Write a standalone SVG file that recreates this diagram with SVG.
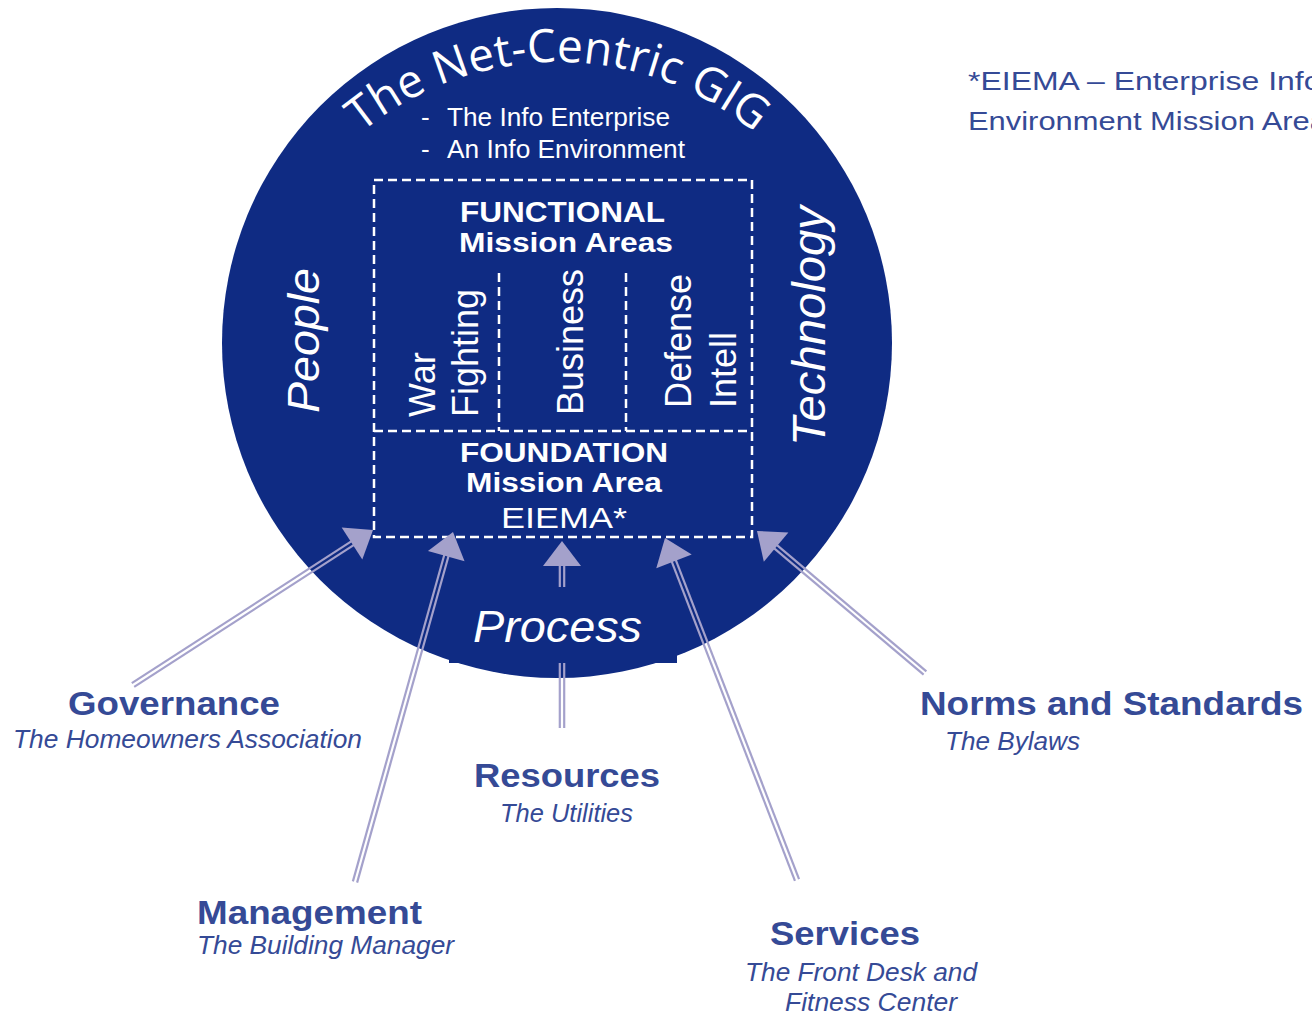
<svg xmlns="http://www.w3.org/2000/svg" xmlns:xlink="http://www.w3.org/1999/xlink" width="1312" height="1018" viewBox="0 0 1312 1018">
<style>
.disc{fill:#0F2B83}
.dash{fill:none;stroke:#ffffff;stroke-width:2.5;stroke-dasharray:9 5}
.w{fill:#ffffff;font-family:"Liberation Sans",Arial,sans-serif}
.wb{fill:#ffffff;font-family:"Liberation Sans",Arial,sans-serif;font-weight:bold}
.wi{fill:#ffffff;font-family:"Liberation Sans",Arial,sans-serif;font-style:italic}
.title{fill:#ffffff;font-family:"Open Sans","DejaVu Sans",sans-serif;font-size:46px}
.sh{stroke:#A4A1CB;stroke-width:2.2;fill:none}
.ah{fill:#A4A1CB}
.lb{fill:#354A96;font-family:"Liberation Sans",Arial,sans-serif;font-weight:bold;font-size:33px}
.ls{fill:#354A96;font-family:"Liberation Sans",Arial,sans-serif;font-style:italic;font-size:25px}
.note{fill:#354A96;font-family:"Liberation Sans",Arial,sans-serif;font-size:26px}
</style>
<defs>
<path id="arc" d="M 248,372 A 310 310 0 0 1 868,372"/>
<path id="head" d="M0,0 L-25,-19 L-25,19 Z"/>
</defs>

<g id="gig">
<circle class="disc" cx="557" cy="343" r="335"/>
<rect class="disc" x="449" y="590" width="228" height="73"/>
<text class="title"><textPath xlink:href="#arc" href="#arc" startOffset="50%" text-anchor="middle">The Net-Centric GIG</textPath></text>
<text class="w" font-size="26" x="421" y="126">-</text>
<text class="w" font-size="26" x="447" y="126" textLength="223" lengthAdjust="spacingAndGlyphs">The Info Enterprise</text>
<text class="w" font-size="26" x="421" y="158">-</text>
<text class="w" font-size="26" x="447" y="158" textLength="238" lengthAdjust="spacingAndGlyphs">An Info Environment</text>
<text class="wi" font-size="45" transform="translate(319,413) rotate(-90)" textLength="145" lengthAdjust="spacingAndGlyphs">People</text>
<text class="wi" font-size="46" transform="translate(825,446) rotate(-90)" textLength="240" lengthAdjust="spacingAndGlyphs">Technology</text>
<text class="wi" font-size="45" x="473" y="642" textLength="169" lengthAdjust="spacingAndGlyphs">Process</text>
</g>

<g id="mission-areas">
<rect class="dash" x="374" y="180" width="378" height="357"/>
<line class="dash" x1="374" y1="431" x2="752" y2="431"/>
<line class="dash" x1="499" y1="273" x2="499" y2="431"/>
<line class="dash" x1="626" y1="273" x2="626" y2="431"/>
<text class="wb" font-size="29" x="460" y="222" textLength="205" lengthAdjust="spacingAndGlyphs">FUNCTIONAL</text>
<text class="wb" font-size="27" x="459" y="252" textLength="214" lengthAdjust="spacingAndGlyphs">Mission Areas</text>
<text class="w" font-size="36" transform="translate(435,417) rotate(-90)">War</text>
<text class="w" font-size="36" transform="translate(478,417) rotate(-90)">Fighting</text>
<text class="w" font-size="36" transform="translate(583,415) rotate(-90)">Business</text>
<text class="w" font-size="36" transform="translate(691,408) rotate(-90)">Defense</text>
<text class="w" font-size="36" transform="translate(736,408) rotate(-90)">Intell</text>
<text class="wb" font-size="28" x="460" y="462" textLength="208" lengthAdjust="spacingAndGlyphs">FOUNDATION</text>
<text class="wb" font-size="28" x="466" y="492" textLength="196" lengthAdjust="spacingAndGlyphs">Mission Area</text>
<text class="w" font-size="30" x="501" y="528" textLength="126" lengthAdjust="spacingAndGlyphs">EIEMA*</text>
</g>

<g id="connectors">
<line class="sh" x1="134.2" y1="686.9" x2="354" y2="544.9"/>
<line class="sh" x1="131.8" y1="683.2" x2="351.6" y2="541.2"/>
<use href="#head" xlink:href="#head" class="ah" transform="translate(373,530) rotate(-32.86)"/>

<line class="sh" x1="357.1" y1="882.6" x2="448.6" y2="555.7"/>
<line class="sh" x1="352.9" y1="881.4" x2="444.4" y2="554.5"/>
<use href="#head" xlink:href="#head" class="ah" transform="translate(453,532) rotate(-74.36)"/>

<line class="sh" x1="559.8" y1="728" x2="559.8" y2="663"/>
<line class="sh" x1="564.2" y1="728" x2="564.2" y2="663"/>
<line class="sh" x1="559.8" y1="587" x2="559.8" y2="560"/>
<line class="sh" x1="564.2" y1="587" x2="564.2" y2="560"/>
<use href="#head" xlink:href="#head" class="ah" transform="translate(562,541) rotate(-90)"/>

<line class="sh" x1="799.05" y1="879.2" x2="675.65" y2="559.6"/>
<line class="sh" x1="794.95" y1="880.8" x2="671.55" y2="561.2"/>
<use href="#head" xlink:href="#head" class="ah" transform="translate(665,538) rotate(-111.1)"/>

<line class="sh" x1="926.4" y1="671.3" x2="776.7" y2="544.8"/>
<line class="sh" x1="923.6" y1="674.7" x2="773.9" y2="548.2"/>
<use href="#head" xlink:href="#head" class="ah" transform="translate(757,531) rotate(-139.8)"/>
</g>

<g id="governance">
<text class="lb" x="68" y="715" textLength="212" lengthAdjust="spacingAndGlyphs">Governance</text>
<text class="ls" x="13" y="748" textLength="349" lengthAdjust="spacingAndGlyphs">The Homeowners Association</text>
</g>
<g id="management">
<text class="lb" x="197" y="924" textLength="225" lengthAdjust="spacingAndGlyphs">Management</text>
<text class="ls" x="197" y="954" textLength="257" lengthAdjust="spacingAndGlyphs">The Building Manager</text>
</g>
<g id="resources">
<text class="lb" x="474" y="787" textLength="186" lengthAdjust="spacingAndGlyphs">Resources</text>
<text class="ls" x="500" y="822" textLength="133" lengthAdjust="spacingAndGlyphs">The Utilities</text>
</g>
<g id="services">
<text class="lb" x="770" y="945" textLength="150" lengthAdjust="spacingAndGlyphs">Services</text>
<text class="ls" x="745" y="981" textLength="232" lengthAdjust="spacingAndGlyphs">The Front Desk and</text>
<text class="ls" x="785" y="1011" textLength="172" lengthAdjust="spacingAndGlyphs">Fitness Center</text>
</g>
<g id="norms">
<text class="lb" x="920" y="715" textLength="383" lengthAdjust="spacingAndGlyphs">Norms and Standards</text>
<text class="ls" x="945" y="750" textLength="135" lengthAdjust="spacingAndGlyphs">The Bylaws</text>
</g>
<g id="footnote">
<text class="note" x="968" y="90" textLength="460" lengthAdjust="spacingAndGlyphs">*EIEMA – Enterprise Information</text>
<text class="note" x="968" y="130" textLength="359" lengthAdjust="spacingAndGlyphs">Environment Mission Area</text>
</g>
</svg>
